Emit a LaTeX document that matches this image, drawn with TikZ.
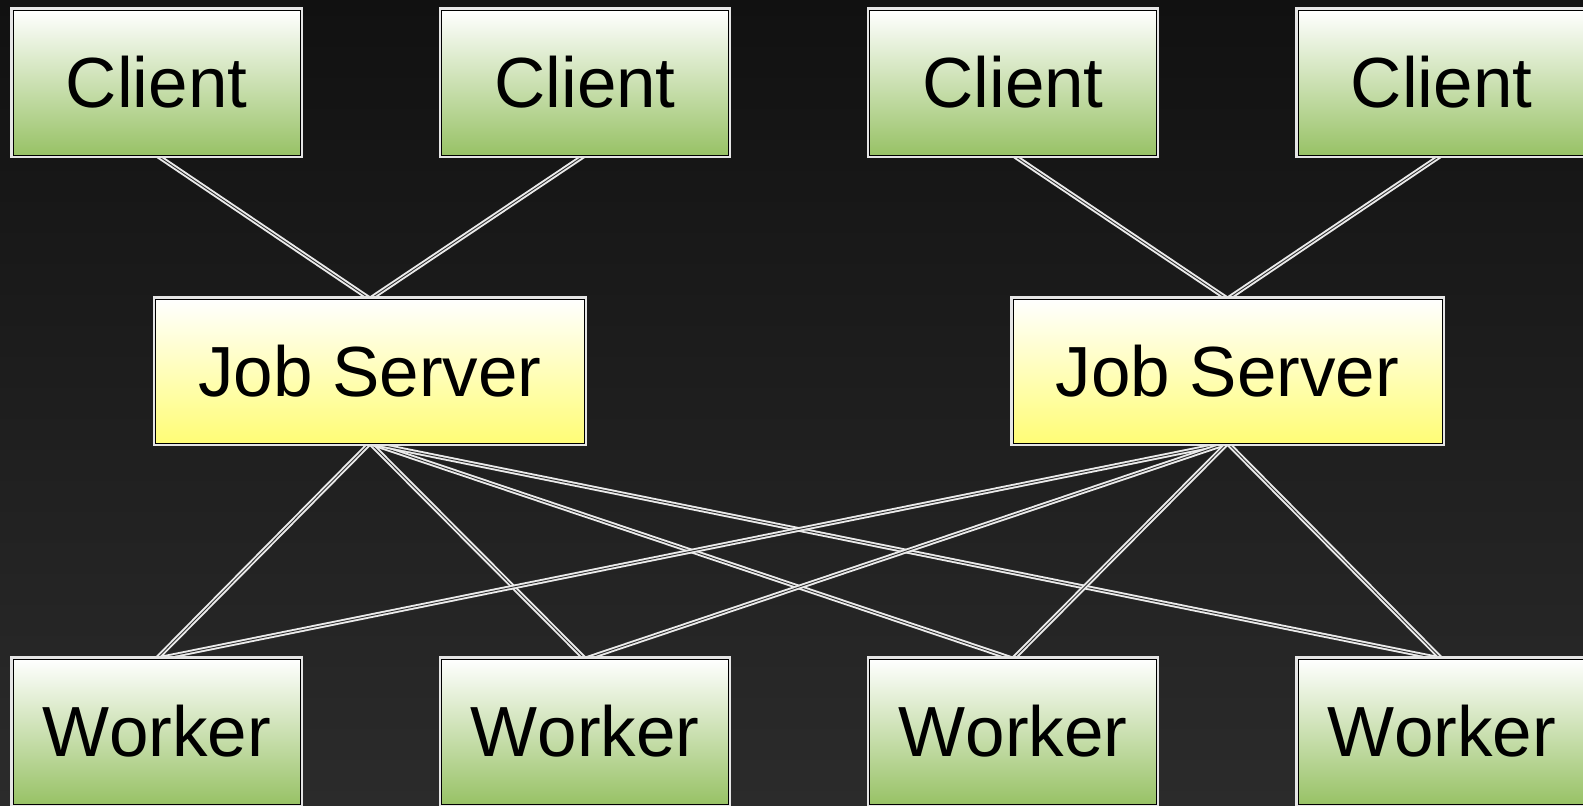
\documentclass[tikz,border=0pt]{standalone}
\usepackage{fontspec}
\setmainfont[Kerning=Off]{Liberation Sans}
\pgfdeclarelayer{back}
\pgfdeclarelayer{lines}
\pgfsetlayers{back,lines,main}
\definecolor{bgtop}{HTML}{111111}
\definecolor{bgbot}{HTML}{2B2B2B}
\definecolor{cgreen}{HTML}{98C266}
\definecolor{cyellow}{HTML}{FFFD76}
\tikzset{
  boxbase/.style={rectangle, draw=black, line width=1pt, outer sep=0pt, inner sep=0pt,
    preaction={draw=white!90!black, line width=5.5pt},
    font=\fontsize{71}{85}\selectfont, text=black},
  greenbox/.style={boxbase, top color=white, bottom color=cgreen, minimum width=287pt, minimum height=145pt},
  yellowbox/.style={boxbase, top color=white, bottom color=cyellow, minimum width=429pt, minimum height=144pt},
  link/.style={draw=white!92!black, line width=1.9pt, double=black!80, double distance=0.9pt}
}
\begin{document}
\begin{tikzpicture}[x=1pt,y=-1pt]
\useasboundingbox (0,0) rectangle (1583,806);
\begin{pgfonlayer}{back}
\shade[top color=bgtop, bottom color=bgbot] (0,0) rectangle (1583,806);
\end{pgfonlayer}
\node[greenbox] (c1) at (156.5,82.5) {Client};
\node[greenbox] (c2) at (585,82.5) {Client};
\node[greenbox] (c3) at (1013,82.5) {Client};
\node[greenbox] (c4) at (1441.5,82.5) {Client};
\node[yellowbox] (j1) at (370,371) {Job Server};
\node[yellowbox] (j2) at (1227.5,371) {Job Server};
\node[greenbox] (w1) at (156.5,731.5) {Worker};
\node[greenbox] (w2) at (585,731.5) {Worker};
\node[greenbox] (w3) at (1013,731.5) {Worker};
\node[greenbox] (w4) at (1441.5,731.5) {Worker};
\begin{pgfonlayer}{lines}
\draw[link] (c1.south) -- (j1.north);
\draw[link] (c2.south) -- (j1.north);
\draw[link] (c3.south) -- (j2.north);
\draw[link] (c4.south) -- (j2.north);
\foreach \j in {j1,j2}{
  \foreach \w in {w1,w2,w3,w4}{
    \draw[link] (\j.south) -- (\w.north);
  }
}
\end{pgfonlayer}
\end{tikzpicture}
\end{document}
